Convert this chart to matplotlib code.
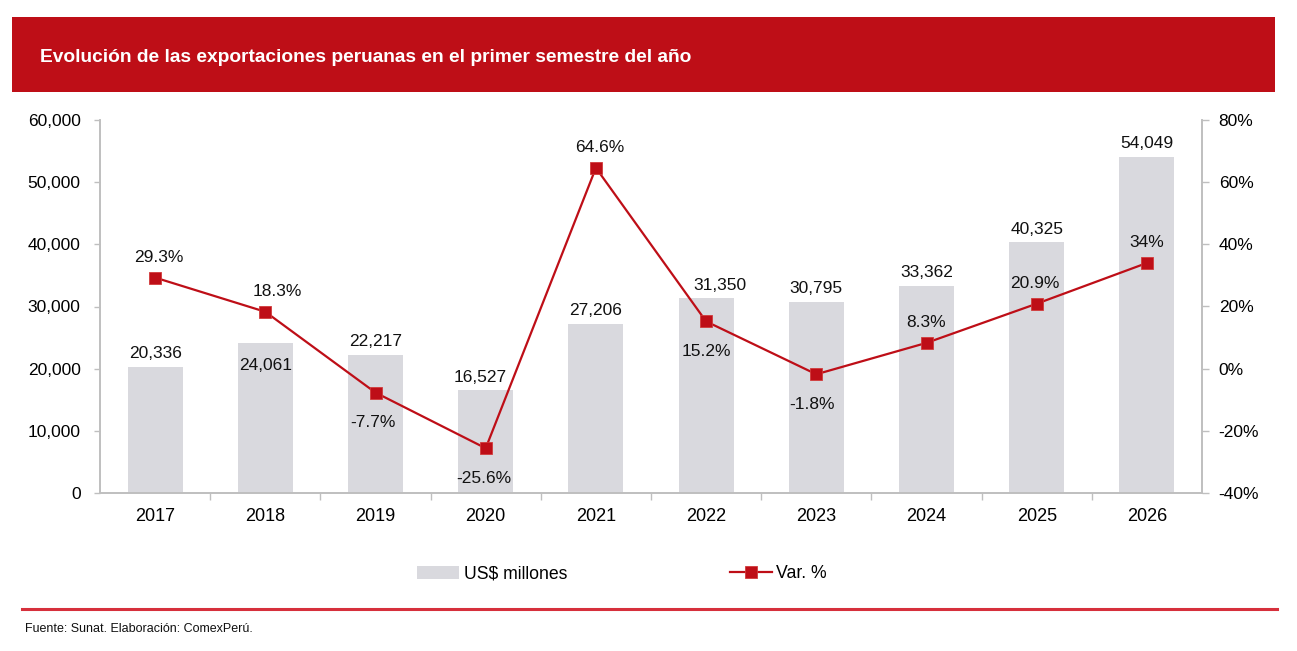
import matplotlib.pyplot as plt
import numpy as np
from matplotlib.patches import Rectangle
from matplotlib.lines import Line2D
from matplotlib.ticker import FuncFormatter, FixedLocator

plt.rcParams['font.family'] = ['Liberation Sans', 'DejaVu Sans']

years = ['2017', '2018', '2019', '2020', '2021', '2022', '2023', '2024', '2025', '2026']
exports = [20336, 24061, 22217, 16527, 27206, 31350, 30795, 33362, 40325, 54049]
var_pct = [29.3, 18.3, -7.7, -25.6, 64.6, 15.2, -1.8, 8.3, 20.9, 34]
var_txt = ['29.3%', '18.3%', '-7.7%', '-25.6%', '64.6%', '15.2%', '-1.8%', '8.3%', '20.9%', '34%']

RED = '#BE0E17'
BAR = '#D9D9DE'
GREY = '#BFBFBF'
FS = 12.5

fig = plt.figure(figsize=(12.97, 6.51), dpi=100)
W, H = 1297, 651

# title band
fig.patches.append(Rectangle((12 / W, 1 - 92 / H), 1263 / W, 75 / H, transform=fig.transFigure,
                             facecolor=RED, edgecolor='none'))
fig.text(40 / W, 1 - 58 / H, 'Evolución de las exportaciones peruanas en el primer semestre del año',
         color='white', fontsize=13.8, fontweight='bold', va='center', ha='left')

ax = fig.add_axes([100 / W, 1 - 493 / H, 1102 / W, 373 / H])
ax2 = ax.twinx()

x = np.arange(len(years))
bars = ax.bar(x, exports, width=0.5, color=BAR, zorder=1, label='US$ millones')
ax.set_xlim(-0.5, len(years) - 0.5)
ax.set_ylim(0, 60000)
ax.set_yticks(np.arange(0, 60001, 10000))
ax.yaxis.set_major_formatter(FuncFormatter(lambda v, p: f'{int(v):,}'))
ax.set_xticks(x)
ax.set_xticklabels(years)
ax.xaxis.set_minor_locator(FixedLocator(np.arange(0.5, len(years) - 1, 1)))
ax.tick_params(axis='x', which='major', length=0, pad=11, labelsize=13)
ax.tick_params(axis='x', which='minor', length=5, color=GREY, width=1)
ax.tick_params(axis='y', length=4, color=GREY, width=1, labelsize=FS, pad=10)

line, = ax2.plot(x, var_pct, color=RED, lw=1.6, marker='s', markersize=9,
                 markerfacecolor=RED, markeredgecolor='#D23A3A', markeredgewidth=0.6,
                 zorder=3, label='Var. %')
ax2.set_ylim(-40, 80)
ax2.set_yticks(np.arange(-40, 81, 20))
ax2.yaxis.set_major_formatter(FuncFormatter(lambda v, p: f'{int(v)}%'))
ax2.tick_params(axis='y', length=5, color=GREY, width=1, labelsize=FS, pad=7)

for a in (ax, ax2):
    a.spines['top'].set_visible(False)
    for s in ('left', 'right', 'bottom'):
        a.spines[s].set_color(GREY)
        a.spines[s].set_linewidth(1.2)
ax.set_zorder(ax2.get_zorder() - 1)
ax2.patch.set_visible(False)

# bar labels (2018 sits inside the bar)
bar_dy = [13, -22, 13, 13, 13, 13, 13, 13, 13, 13]
bar_dx = [0, 0, 0, -6, 0, 14, 0, 0, 0, 0]
for i, v in enumerate(exports):
    ax.annotate(f'{v:,}', (x[i], v), xytext=(bar_dx[i], bar_dy[i]), textcoords='offset pixels',
                ha='center', va='center', fontsize=FS, color='#111111')

# percentage labels
pct_dy = [20, 20, -30, -30, 20, -30, -30, 20, 20, 20]
pct_dx = [4, 12, -3, -2, 4, 0, -4, 0, -2, 0]
for i, v in enumerate(var_pct):
    ax2.annotate(var_txt[i], (x[i], v), xytext=(pct_dx[i], pct_dy[i]), textcoords='offset pixels',
                 ha='center', va='center', fontsize=FS, color='#111111', zorder=5)

fig.legend(handles=[bars, line], labels=['US$ millones', 'Var. %'], loc='center',
           bbox_to_anchor=(622 / W, 1 - 574 / H), ncol=2, frameon=False, fontsize=12.7,
           columnspacing=9.2, handlelength=2.4, handletextpad=0.25)

# footer
fig.add_artist(Line2D([22 / W, 1277 / W], [1 - 609 / H, 1 - 609 / H], color='#D6303C', lw=2.2,
                      transform=fig.transFigure))
fig.text(25 / W, 1 - 629 / H, 'Fuente: Sunat. Elaboración: ComexPerú.', fontsize=9,
         va='center', ha='left', color='#111111')

fig.savefig('out.png', dpi=100)
